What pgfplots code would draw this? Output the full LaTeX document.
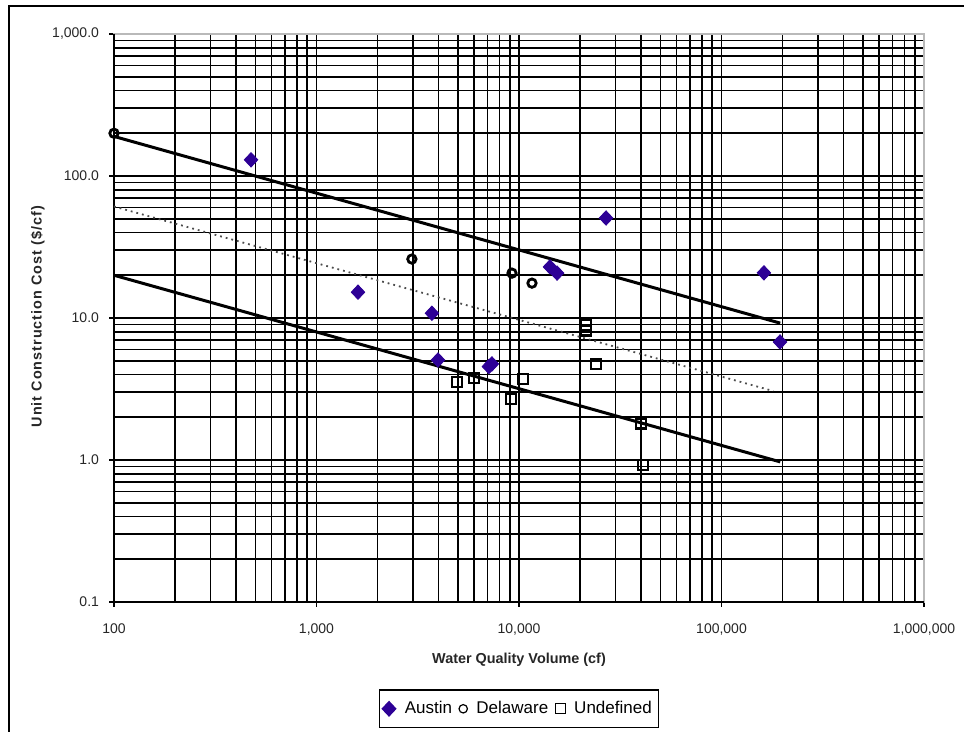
\documentclass[border=0pt]{standalone}
\usepackage{fontspec}
\setmainfont{Liberation Sans}
\usepackage{pgfplots}
\pgfplotsset{compat=1.18}
\definecolor{austin}{RGB}{45,0,150}
\begin{document}
\begin{tikzpicture}
\useasboundingbox (0pt,0pt) rectangle (482pt,366pt);
\draw[black, line width=0.8pt] (4.5pt,0pt) -- (4.5pt,363pt) -- (482pt,363pt);
\begin{axis}[
  at={(57pt,65pt)}, anchor=south west,
  scale only axis, width=405pt, height=284pt,
  xmode=log, ymode=log,
  xmin=100, xmax=1000000, ymin=0.1, ymax=1000,
  /pgf/number format/assume math mode=true,
  xtick={100,1000,10000,100000,1000000},
  xticklabels={100,{1,000},{10,000},{100,000},{1,000,000}},
  ytick={0.1,1,10,100,1000},
  yticklabels={0.1,1.0,10.0,100.0,{1,000.0}},
  minor xtick={200,300,400,500,600,700,800,900,2000,3000,4000,5000,6000,7000,8000,9000,20000,30000,40000,50000,60000,70000,80000,90000,200000,300000,400000,500000,600000,700000,800000,900000},
  minor ytick={0.2,0.3,0.4,0.5,0.6,0.7,0.8,0.9,2,3,4,5,6,7,8,9,20,30,40,50,60,70,80,90,200,300,400,500,600,700,800,900},
  grid=both,
  major grid style={black, line width=0.8pt},
  minor grid style={black, line width=0.8pt},
  tick align=outside, xtick pos=bottom, ytick pos=left,
  major tick length=2.5pt, minor tick length=0pt,
  tick style={black, line width=0.8pt},
  axis line style={draw=gray!55, line width=1.2pt},
  ticklabel style={font=\fontsize{7}{8}\selectfont, text=black!85},
  xticklabel style={yshift=-5pt},
  yticklabel style={xshift=-1.5pt},
  xlabel={\textbf{Water Quality Volume (cf)}},
  ylabel={\textbf{\addfontfeature{LetterSpace=7}Unit Construction Cost (\$/cf)}},
  label style={font=\fontsize{7.2}{8}\selectfont, text=black!85},
  xlabel style={at={(axis description cs:0.5,-0.102)}, anchor=center},
  ylabel style={at={(axis description cs:-0.094,0.503)}, anchor=center},
  legend columns=-1,
  legend style={at={(axis description cs:0.5,-0.188)}, anchor=center,
    draw=black, line width=0.7pt, font=\fontsize{8.5}{10}\selectfont,
    inner xsep=1.5pt, inner ysep=3.5pt,
    /tikz/every even column/.append style={column sep=1.5pt},
    /tikz/every odd column/.append style={column sep=2.5pt}},
  legend image code/.code={\draw[#1, line width=0.6pt] plot coordinates {(0.1cm,0cm)};},
  clip=false,
]
\draw[black, line width=1.2pt] (rel axis cs:0,1) -- (rel axis cs:0,0) -- (rel axis cs:1,0);
\addplot[only marks, mark=diamond*, mark size=3.6pt, mark options={xscale=1.25}, draw=austin, fill=austin] coordinates {
  (475,130) (1603,15.2) (3715,10.8) (3981,5.06) (7100,4.55) (7350,4.75)
  (14220,22.9) (15420,20.7) (26900,50.6) (162000,20.8) (194500,6.78)
};
\addlegendentry{Austin}
\addplot[only marks, mark=o, mark size=2.1pt, draw=black, fill=white, line width=1.4pt] coordinates {
  (100,200) (2958,26.0) (9230,20.7) (11590,17.6)
};
\addlegendentry{Delaware}
\addplot[only marks, mark=square, mark size=2.5pt, draw=black, fill=white, line width=1.3pt] coordinates {
  (4940,3.54) (5995,3.78) (9120,2.69) (10480,3.72) (21430,8.93) (21430,8.2)
  (23990,4.74) (40000,1.80) (40930,0.92)
};
\addlegendentry{Undefined}
\addplot[black, line width=1.5pt, forget plot] coordinates {(100,190) (195000,9.2)};
\addplot[black, line width=1.5pt, forget plot] coordinates {(100,20) (195000,0.97)};
\addplot[black!70, line width=0.9pt, dotted, forget plot] coordinates {(100,61) (180000,3.06)};
\end{axis}
\end{tikzpicture}
\end{document}
